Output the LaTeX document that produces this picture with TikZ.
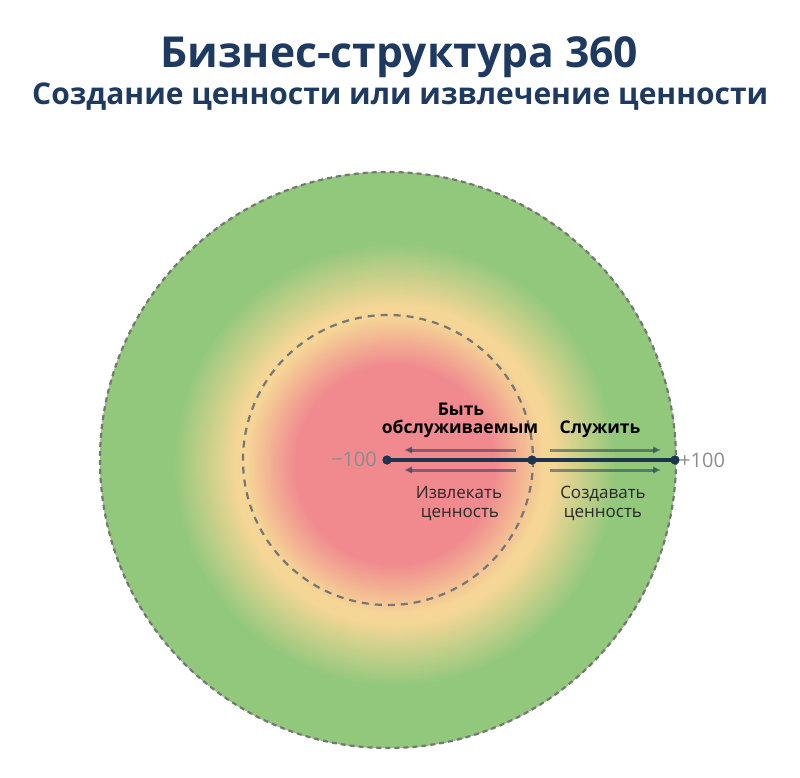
\documentclass[tikz,border=0pt]{standalone}
\usepackage{fontspec}
\setmainfont{Open Sans}
\usetikzlibrary{arrows.meta}
\definecolor{navy}{RGB}{31,58,96}
\definecolor{linecol}{RGB}{28,52,78}
\definecolor{dashcol}{RGB}{118,118,118}
\definecolor{cred}{RGB}{240,138,143}
\definecolor{cyel}{RGB}{245,214,150}
\definecolor{cgrn}{RGB}{146,200,124}
\definecolor{numcol}{RGB}{140,140,140}
\definecolor{labcol}{RGB}{40,40,40}
\tikzset{
  dashring/.style={draw=dashcol, line width=2.2pt},
  mainline/.style={draw=linecol, line width=3.5pt},
  flowarrow/.style={draw=linecol, draw opacity=0.5, fill opacity=0.5, line width=3pt, -{Latex[length=8pt,width=8pt]}},
  dotmark/.style={circle, fill=linecol, inner sep=0pt, minimum size=9pt},
  lab/.style={inner sep=0pt, text=labcol, font=\fontsize{17}{20}\selectfont},
  blab/.style={inner sep=0pt, text=black, font=\fontsize{17.5}{20}\selectfont\bfseries},
  numlab/.style={inner sep=0pt, text=numcol, font=\fontsize{20}{24}\selectfont},
}
\begin{document}
\begin{tikzpicture}[x=1pt,y=-1pt]
\useasboundingbox (0,0) rectangle (800,778);
% centres
\coordinate (c) at (388,460);
\coordinate (gc) at (395,465);
% gradient disc
\begin{scope}
  \clip (c) circle[radius=288];
  \fill[cgrn] (c) circle[radius=288];
  \foreach \r in {300,298,...,2}{
    \pgfmathtruncatemacro\zone{\r<=100 ? 0 : (\r<=150 ? 1 : (\r<=160 ? 2 : (\r<=222 ? 3 : 4)))}
    \ifnum\zone=0 \colorlet{cc}{cred}\fi
    \ifnum\zone=1 \pgfmathtruncatemacro\p{100*(\r-100)/50}\colorlet{cc}{cyel!\p!cred}\fi
    \ifnum\zone=2 \colorlet{cc}{cyel}\fi
    \ifnum\zone=3 \pgfmathtruncatemacro\p{100*(\r-160)/62}\colorlet{cc}{cgrn!\p!cyel}\fi
    \ifnum\zone=4 \colorlet{cc}{cgrn}\fi
    \fill[cc] (gc) circle[radius=\r];
  }
\end{scope}
% dashed rings
\draw[dashring, dash pattern=on 5pt off 4pt] (c) circle[radius=288];
\draw[dashring, dash pattern=on 7pt off 6pt] (c) circle[radius=145];
% title
\node[inner sep=0pt, anchor=base west, text=navy] (title) at (160,68)
  {\resizebox{478pt}{!}{\bfseries Бизнес-структура 360}};
\node[inner sep=0pt, anchor=base west, text=navy] (subtitle) at (32,105)
  {\resizebox{736pt}{!}{\bfseries Создание ценности или извлечение ценности}};
% axis
\node[dotmark] (lft) at (387,460) {};
\node[dotmark] (mid) at (532,460) {};
\node[dotmark] (rgt) at (675,460) {};
\draw[mainline] (lft.center) -- (mid.center) -- (rgt.center);
\node[dotmark] at (lft) {};
\node[dotmark] at (mid) {};
\node[dotmark] at (rgt) {};
% arrows
\coordinate (la1) at (516,450); \coordinate (la2) at (404,450);
\coordinate (lb1) at (516,470); \coordinate (lb2) at (404,470);
\coordinate (ra1) at (550,450); \coordinate (ra2) at (661,450);
\coordinate (rb1) at (550,470); \coordinate (rb2) at (661,470);
\draw[flowarrow] (la1) -- (la2);
\draw[flowarrow] (lb1) -- (lb2);
\draw[flowarrow] (ra1) -- (ra2);
\draw[flowarrow] (rb1) -- (rb2);
% numbers
\node[numlab, anchor=east] (minus) at (377,459) {−100};
\node[numlab, anchor=west] (plus) at (679,460) {+100};
% labels
\node[blab, anchor=base] (b1) at (461,415) {Быть};
\node[blab, anchor=base] (b2) at (460,433) {обслуживаемым};
\node[blab, anchor=base] (s1) at (600,433) {Служить};
\node[lab, anchor=base] (i1) at (459,498) {Извлекать};
\node[lab, anchor=base] (i2) at (460,517) {ценность};
\node[lab, anchor=base] (c1) at (603,498) {Создавать};
\node[lab, anchor=base] (c2) at (603,517) {ценность};
\end{tikzpicture}
\end{document}
